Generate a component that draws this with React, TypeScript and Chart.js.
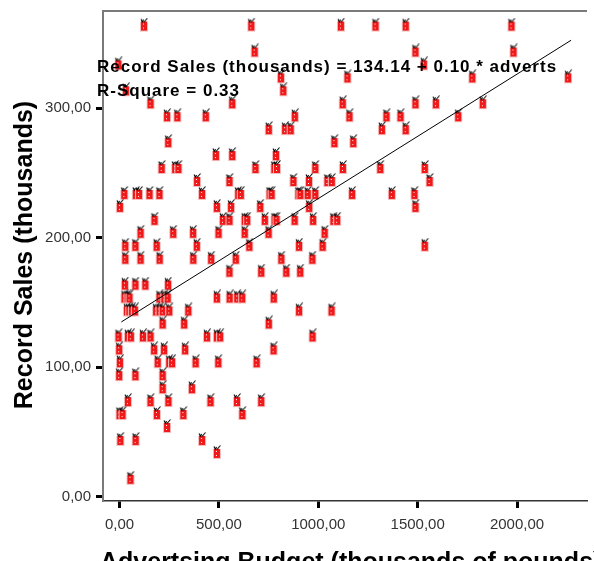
import React, { useEffect, useRef } from 'react';
import { Chart, registerables } from 'chart.js';

Chart.register(...registerables);

// ---- text ----
const X_TITLE = 'Advertsing Budget (thousands of pounds)';
const Y_TITLE = 'Record Sales (thousands)';
const EQUATION = 'Record Sales (thousands) = 134.14 + 0.10 * adverts';
const R_SQUARE = 'R-Square = 0.33';

// ---- ticks ----
const X_TICKS = [0, 500, 1000, 1500, 2000];
const Y_TICKS = [0, 100, 200, 300];

// ---- fit line end points ----
const FIT_X = [9.1, 2271.9];
const FIT_Y = [135.0, 352.5];

// ---- observations: advertising budget (x) ----
const ADVERTS = [
  138, 678, 1129, 1303, 1455, 1987,
  695, 1504, 1997,
  9, 1546,
  827, 1162, 1790, 2272,
  47, 839,
  171, 582, 1138, 1504, 1607, 1843,
  254, 306, 449, 897, 1172, 1358, 1429, 1719,
  766, 848, 876, 1335, 1455,
  260, 1096, 1191,
  500, 582, 802,
  227, 295, 311, 699, 794, 807, 1000, 1139, 1327, 1551,
  405, 568, 890, 968, 1061, 1083, 1575,
  39, 97, 113, 166, 216, 430, 612, 625, 770, 780, 915, 925, 962, 1000, 1185, 1385, 1499,
  17, 505, 576, 723, 969, 1504,
  191, 535, 568, 645, 657, 746, 795, 805, 896, 989, 1091, 1110,
  121, 285, 385, 513, 645, 765, 1047,
  44, 95, 202, 404, 668, 918, 1037, 1551,
  44, 121, 217, 386, 476, 600, 829, 985,
  568, 728, 854, 924,
  42, 95, 145, 259,
  40, 55, 65, 216, 240, 257, 505, 569, 607, 632, 791,
  52, 64, 77, 92, 199, 216, 232, 265, 361, 918, 1082,
  232, 340, 766,
  10, 57, 72, 133, 171, 455, 505, 521, 986,
  13, 189, 239, 345, 790,
  17, 207, 265, 279, 398, 512, 705,
  13, 95, 232,
  232, 379,
  57, 171, 261, 473, 606, 728,
  15, 30, 203, 336, 633,
  254,
  19, 96, 430,
  505,
  70,
];

// ---- observations: record sales (y) ----
const SALES = [
  360, 360, 360, 360, 360, 360,
  340, 340, 340,
  330, 330,
  320, 320, 320, 320,
  310, 310,
  300, 300, 300, 300, 300, 300,
  290, 290, 290, 290, 290, 290, 290, 290,
  280, 280, 280, 280, 280,
  270, 270, 270,
  260, 260, 260,
  250, 250, 250, 250, 250, 250, 250, 250, 250, 250,
  240, 240, 240, 240, 240, 240, 240,
  230, 230, 230, 230, 230, 230, 230, 230, 230, 230, 230, 230, 230, 230, 230, 230, 230,
  220, 220, 220, 220, 220, 220,
  210, 210, 210, 210, 210, 210, 210, 210, 210, 210, 210, 210,
  200, 200, 200, 200, 200, 200, 200,
  190, 190, 190, 190, 190, 190, 190, 190,
  180, 180, 180, 180, 180, 180, 180, 180,
  170, 170, 170, 170,
  160, 160, 160, 160,
  150, 150, 150, 150, 150, 150, 150, 150, 150, 150, 150,
  140, 140, 140, 140, 140, 140, 140, 140, 140, 140, 140,
  130, 130, 130,
  120, 120, 120, 120, 120, 120, 120, 120, 120,
  110, 110, 110, 110, 110,
  100, 100, 100, 100, 100, 100, 100,
  90, 90, 90,
  80, 80,
  70, 70, 70, 70, 70, 70,
  60, 60, 60, 60, 60,
  50,
  40, 40, 40,
  30,
  10,
];

function makeMarker(): HTMLCanvasElement {
  const c = document.createElement('canvas');
  c.width = 16;
  c.height = 26;
  const g = c.getContext('2d') as CanvasRenderingContext2D;
  g.fillStyle = '#f3bcbc';
  g.fillRect(1, 4, 8, 10);
  g.fillStyle = '#f01818';
  g.fillRect(2, 4, 6, 9);
  g.fillStyle = '#ffffff';
  g.fillRect(4, 6, 1, 1);
  g.fillRect(4, 10, 1, 1);
  g.strokeStyle = '#000';
  g.lineWidth = 1.1;
  g.beginPath();
  g.moveTo(2, 1.5);
  g.lineTo(3.5, 4.5);
  g.moveTo(3.5, 4.5);
  g.lineTo(4.5, 2);
  g.moveTo(5, 4.5);
  g.lineTo(8.5, 0.5);
  g.stroke();
  return c;
}

const fmt = (v: number) => v.toFixed(2).replace('.', ',');

export default function App() {
  const ref = useRef<HTMLCanvasElement | null>(null);

  useEffect(() => {
    if (!ref.current) return;
    const marker = makeMarker();
    const points = ADVERTS.map((x, i) => ({ x, y: SALES[i] }));
    const fit = FIT_X.map((x, i) => ({ x, y: FIT_Y[i] }));

    const decor = {
      id: 'decor',
      afterDatasetsDraw(chart: any) {
        const { ctx, chartArea } = chart;
        ctx.save();
        // top frame line
        ctx.strokeStyle = '#7a7a7a';
        ctx.lineWidth = 2;
        ctx.beginPath();
        ctx.moveTo(chartArea.left, chartArea.top);
        ctx.lineTo(chartArea.right, chartArea.top);
        ctx.stroke();
        // regression annotation
        ctx.fillStyle = '#000';
        ctx.textAlign = 'left';
        ctx.textBaseline = 'alphabetic';
        ctx.font = 'bold 17px "Liberation Sans", Arial, sans-serif';
        try { (ctx as any).letterSpacing = '1px'; } catch (e) {}
        ctx.fillText(EQUATION, 97, 72);
        ctx.fillText(R_SQUARE, 97, 96);
        try { (ctx as any).letterSpacing = '0px'; } catch (e) {}
        // axis titles
        ctx.font = 'bold 25px "Liberation Sans", Arial, sans-serif';
        ctx.fillText(X_TITLE, 100, 570);
        ctx.translate(32, 255);
        ctx.rotate(-Math.PI / 2);
        ctx.textAlign = 'center';
        ctx.fillText(Y_TITLE, 0, 0);
        ctx.restore();
      },
    };

    const chart = new Chart(ref.current, {
      type: 'scatter',
      data: {
        datasets: [
          {
            type: 'line',
            data: fit,
            borderColor: '#000',
            borderWidth: 1,
            pointRadius: 0,
            fill: false,
            order: 0,
          } as any,
          {
            type: 'scatter',
            data: points,
            pointStyle: marker as any,
            pointRadius: 6,
            order: 1,
          },
        ],
      },
      options: {
        responsive: false,
        maintainAspectRatio: false,
        animation: false,
        events: [],
        layout: { padding: { top: 11, right: 0, bottom: 0, left: 0 } },
        plugins: { legend: { display: false }, tooltip: { enabled: false } },
        scales: {
          x: {
            type: 'linear',
            position: 'bottom',
            min: -83.3,
            max: 2352,
            afterBuildTicks: (s: any) => { s.ticks = X_TICKS.map((v) => ({ value: v })); },
            afterFit: (s: any) => { s.height = 60; s.paddingLeft = 0; s.paddingRight = 0; },
            ticks: {
              callback: (v: any) => fmt(Number(v)),
              font: { family: '"Liberation Sans", Arial, sans-serif', size: 15 },
              color: '#333',
              padding: 8,
              maxRotation: 0,
            },
            grid: { drawOnChartArea: false, drawTicks: true, tickLength: 7, tickWidth: 3, tickColor: '#000' },
            border: { display: true, color: '#333', width: 1.5 },
          },
          y: {
            type: 'linear',
            min: -3.3,
            max: 375.1,
            afterBuildTicks: (s: any) => { s.ticks = Y_TICKS.map((v) => ({ value: v })); },
            afterFit: (s: any) => { s.width = 103; s.paddingTop = 0; s.paddingBottom = 0; },
            ticks: {
              callback: (v: any) => fmt(Number(v)),
              font: { family: '"Liberation Sans", Arial, sans-serif', size: 15 },
              color: '#333',
              padding: 5,
            },
            grid: { drawOnChartArea: false, drawTicks: true, tickLength: 7, tickWidth: 3, tickColor: '#000' },
            border: { display: true, color: '#7a7a7a', width: 2 },
          },
        },
      },
      plugins: [decor],
    } as any);

    return () => chart.destroy();
  }, []);

  return (
    <div style={{ position: 'absolute', left: 0, top: 0, width: 594, height: 561, background: '#fff' }}>
      <canvas ref={ref} width={594} height={561} style={{ width: 594, height: 561, display: 'block' }} />
    </div>
  );
}
